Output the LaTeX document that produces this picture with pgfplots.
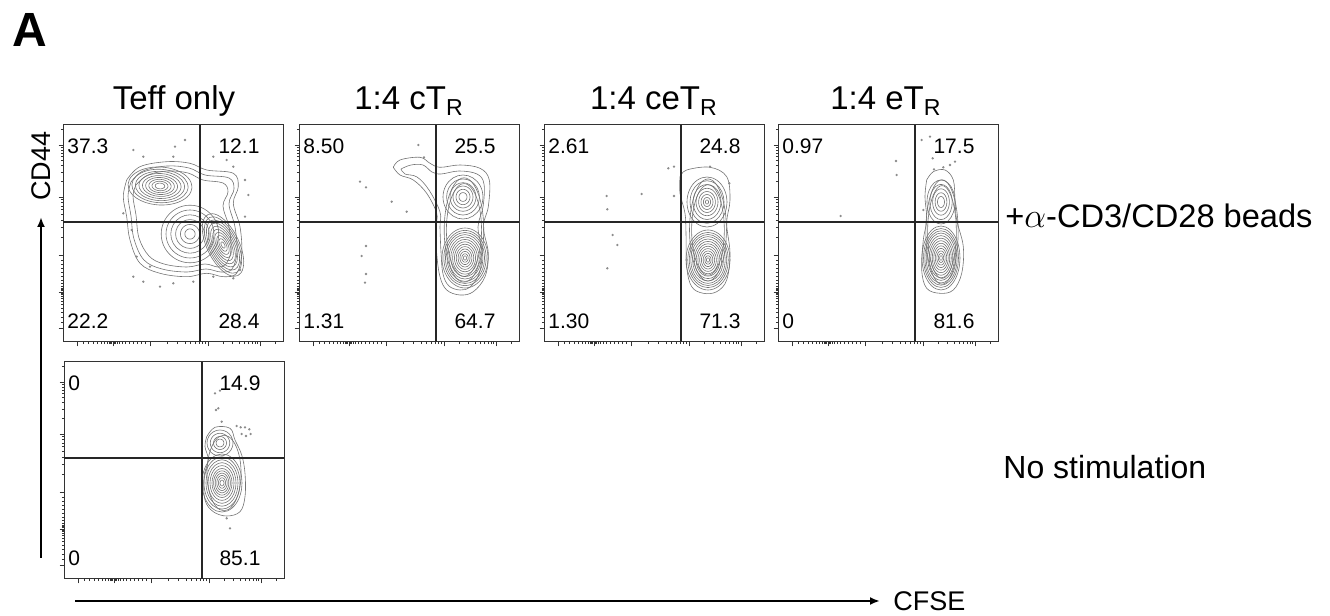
\documentclass[border=0pt]{standalone}
\usepackage{pgfplots}
\pgfplotsset{compat=1.18}
\usepackage{pgfplotstable}
\usepackage{fontspec}
\setmainfont{Liberation Sans}
\usetikzlibrary{arrows.meta}

% unit circle (typed) used for contour rings
\pgfplotstableread{
c s
1 0
0.9659 0.2588
0.8660 0.5
0.7071 0.7071
0.5 0.8660
0.2588 0.9659
0 1
-0.2588 0.9659
-0.5 0.8660
-0.7071 0.7071
-0.8660 0.5
-0.9659 0.2588
-1 0
-0.9659 -0.2588
-0.8660 -0.5
-0.7071 -0.7071
-0.5 -0.8660
-0.2588 -0.9659
0 -1
0.2588 -0.9659
0.5 -0.8660
0.7071 -0.7071
0.8660 -0.5
0.9659 -0.2588
1 0
}\unitcircle

\tikzset{qlab/.style={font=\fontsize{10.5}{12}\selectfont, inner sep=0pt}}
\pgfplotsset{
 flowpanel/.style={
   scale only axis, width=110pt, height=108.5pt,
   xmin=0,xmax=220,ymin=0,ymax=217,
   anchor=south west,
   axis line style={black!80, line width=0.5pt},
   tick pos=left, tick align=outside,
   xtick={14,50,87,145,197}, ytick={14,50,87,145,197},
   minor xtick={20,25,30,34,38,41,44,46,47.5,48.5,51.5,52.5,54,56,59,62,66,70,74,78,82,104.5,114.7,121.9,127.5,132.1,136,139.4,142.3,160.7,169.8,176.3,181.4,185.4,188.9,192,194.6,212.7},
   minor ytick={20,25,30,34,38,41,44,46,47.5,48.5,51.5,52.5,54,56,59,62,66,70,74,78,82,104.5,114.7,121.9,127.5,132.1,136,139.4,142.3,160.7,169.8,176.3,181.4,185.4,188.9,192,194.6,212.7},
   xticklabels={}, yticklabels={},
   major tick length=2.2pt, minor tick length=1.1pt,
   every tick/.style={black!80, line width=0.4pt},
 },
 cont/.style={black!55, line width=0.3pt, smooth, tension=0.6, no marks},
 gate/.style={black!85, line width=0.8pt, no marks},
 dots/.style={only marks, mark=*, mark size=0.35pt, black!45},
}

% nested contour rings: cx cy rx ry rotation {scale list}
\newcommand{\pop}[6]{%
 \foreach \f in {#6}{%
  \edef\temp{\noexpand\addplot[cont] table[x expr={#1+\f*(#3*\noexpand\thisrow{c}*cos(#5)-#4*\noexpand\thisrow{s}*sin(#5))}, y expr={#2+\f*(#3*\noexpand\thisrow{c}*sin(#5)+#4*\noexpand\thisrow{s}*cos(#5))}] {\noexpand\unitcircle};}%
  \temp
 }}

\newcommand{\qlabels}[4]{%
 \node[qlab, anchor=west] at (axis cs:4,196) {#1};
 \node[qlab] at (axis cs:176,196) {#2};
 \node[qlab, anchor=west] at (axis cs:4,21) {#3};
 \node[qlab] at (axis cs:176,21) {#4};
}

\begin{document}
\begin{tikzpicture}
\useasboundingbox (0,0) rectangle (665pt,308pt);

% ---------- Panel 1: Teff only ----------
\begin{axis}[flowpanel, at={(31.5pt,137pt)}]
\addplot[cont] coordinates {(63.7,162) (77,175.3) (103.7,180.3) (127,178.7) (143.7,172) (170.3,168.7) (175.3,155.3) (170.3,138.7) (177,115.3) (178.7,88.7) (173.7,68.7) (160.3,65.3) (143.7,68.7) (123.7,65.3) (97,68.7) (77,78.7) (67,102) (63.7,125.3) (60.3,145.3) (63.7,162)};
\addplot[cont] coordinates {(68,160) (80,171) (104,176) (126,174) (142,167) (166,164) (171,153) (166,138) (172,115) (174,90) (169,73) (158,70) (143,73) (124,70) (99,73) (81,82) (71,103) (68,126) (65,146) (68,160)};
\addplot[cont] coordinates {(73,157) (85,167) (105,171) (125,169) (140,162) (160,159) (165,150) (160,136) (166,115) (168,92) (163,78) (155,75) (142,78) (124,75) (101,78) (86,86) (76,104) (73,127) (70,146) (73,157)};
\pop{97}{156}{32}{19}{-3}{1,0.88,0.77,0.66,0.55,0.45,0.35,0.25,0.15}
\pop{127}{108}{32}{32}{0}{0.9,0.75,0.6,0.45,0.3,0.16}
\pop{160}{97}{16}{34}{26}{1,0.9,0.8,0.7,0.6,0.5,0.4,0.3,0.2,0.1}
\addplot[dots] coordinates {(70.3,192) (80.3,185.3) (110.3,185.3) (122,202) (112,195.3) (150.3,185.3) (163.7,182) (182,162) (185.3,147) (170.3,175.3) (73.7,85.3) (70.3,65.3) (80.3,60.3) (87,75.3) (110.3,58.7) (130.3,60.3) (150.3,65.3) (170.3,63.7) (68.7,112) (60.3,128.7) (97,55.3) (182,125.3) (177,72)};
\addplot[gate] coordinates {(137,0) (137,217)};
\addplot[gate] coordinates {(0,120) (220,120)};
\qlabels{37.3}{12.1}{22.2}{28.4}
\end{axis}

% ---------- Panel 2: 1:4 cTR ----------
\begin{axis}[flowpanel, at={(149.5pt,137pt)}]
\addplot[cont] coordinates {(94.3,174.7) (101,182) (121,184.7) (131,178.7) (141,174.7) (161,177) (181,173.7) (190.3,162) (189.3,135.3) (184.3,115.3) (189.3,88.7) (186,65.3) (174.3,50.3) (161,47) (147.7,52) (141,65.3) (137.7,88.7) (137,115.3) (137.7,128.7) (127.7,148.7) (114.3,162) (101,167) (94.3,174.7)};
\addplot[cont] coordinates {(102,173) (112,177) (124,177) (133,170) (142,168) (160,171) (178,168) (185,158) (184,135) (179,115) (183,90) (180,68) (171,55) (161,52) (150,56) (144,68) (142,90) (141,115) (141,130) (130,152) (118,165) (106,168) (102,173)};
\pop{164}{145}{20}{22}{0}{1,0.82,0.65,0.5,0.35,0.2}
\pop{165}{112}{22}{58}{0}{0.9,0.8}
\pop{166}{84}{23}{30}{0}{1,0.92,0.85,0.78,0.7,0.62,0.54,0.46,0.38,0.3,0.22,0.14,0.07}
\addplot[dots] coordinates {(119.3,197) (61,160.3) (67,154.7) (92.7,140.3) (107.7,130.3) (67,96) (62.7,86) (67,68) (66,59.3) (125,184.7)};
\addplot[gate] coordinates {(137,0) (137,217)};
\addplot[gate] coordinates {(0,120) (220,120)};
\qlabels{8.50}{25.5}{1.31}{64.7}
\end{axis}

% ---------- Panel 3: 1:4 ceTR ----------
\begin{axis}[flowpanel, at={(272pt,137pt)}]
\addplot[cont] coordinates {(136,165.3) (142.7,172) (166,174.7) (182.7,165.3) (186,142) (182.7,118.7) (186,88.7) (182.7,62) (172.7,50.3) (159.3,48.7) (147.7,55.3) (142.7,75.3) (142,108.7) (141,128.7) (136,148.7) (136,165.3)};
\pop{163}{140}{20}{25}{0}{1,0.85,0.7,0.55,0.42,0.3,0.18,0.08}
\pop{164}{112}{21}{58}{0}{0.88,0.78}
\pop{164}{82}{22}{30}{0}{1,0.92,0.85,0.78,0.7,0.62,0.54,0.46,0.38,0.3,0.22,0.14,0.07}
\addplot[dots] coordinates {(124.3,173.7) (130,175.3) (62.7,146) (63.3,132.7) (97.7,148) (130,146) (68.7,107) (73.3,97) (63.3,73.7) (185.3,158.7) (166,175.3)};
\addplot[gate] coordinates {(137,0) (137,217)};
\addplot[gate] coordinates {(0,120) (220,120)};
\qlabels{2.61}{24.8}{1.30}{71.3}
\end{axis}

% ---------- Panel 4: 1:4 eTR ----------
\begin{axis}[flowpanel, at={(389pt,137pt)}]
\addplot[cont] coordinates {(148.7,162) (155.3,170.3) (167,172) (175.3,162) (177,142) (178.7,122) (185.3,95.3) (183.7,68.7) (175.3,52) (162,48.7) (148.7,53.7) (143.7,72) (145.3,102) (148.7,122) (147,145.3) (148.7,162)};
\pop{163}{140}{14}{22}{0}{1,0.8,0.6,0.42,0.25}
\pop{164}{110}{18}{58}{0}{0.9,0.8}
\pop{163}{84}{19}{32}{0}{1,0.92,0.85,0.78,0.7,0.62,0.54,0.46,0.38,0.3,0.22,0.14,0.07}
\addplot[dots] coordinates {(118,181) (118.7,167) (62.7,126) (143.7,202) (152,205.3) (154.7,183.7) (156,172.7) (172,177) (165.3,174.7) (145.3,132) (177,180.3)};
\addplot[gate] coordinates {(137,0) (137,217)};
\addplot[gate] coordinates {(0,120) (220,120)};
\qlabels{0.97}{17.5}{0}{81.6}
\end{axis}

% ---------- Panel 5: No stimulation ----------
\begin{axis}[flowpanel, at={(32pt,18.5pt)}]
\addplot[cont] coordinates {(142.7,142.3) (151,151.7) (166,150.7) (171,139) (177.7,124) (181,105.7) (181,82.3) (176,67.3) (162.7,63) (149.3,67.3) (141,79) (140,102.3) (144.3,119) (141,132.3) (142.7,142.3)};
\pop{156}{136}{13}{13}{0}{1,0.75,0.5,0.3}
\pop{160}{106}{19}{42}{0}{0.9}
\pop{158}{96}{20}{29}{0}{1,0.9,0.8,0.7,0.6,0.5,0.42,0.34,0.26,0.18,0.1}
\addplot[dots] coordinates {(151,185.7) (156,188.3) (152,169) (154.3,170.7) (157.7,157.3) (172.7,153) (176.7,151.7) (181,151.7) (185.3,149.7) (186.7,145) (182,143) (177.7,145) (166,50.7) (162.7,60.7)};
\addplot[gate] coordinates {(138,0) (138,217)};
\addplot[gate] coordinates {(0,121) (220,121)};
\qlabels{0}{14.9}{0}{85.1}
\end{axis}

% ---------- titles and annotations ----------
\node[anchor=base west, font=\fontsize{24}{28}\selectfont\bfseries, inner sep=0pt] at (6pt,284.5pt) {A};
\node[anchor=base, font=\fontsize{16.5}{19}\selectfont, inner sep=0pt] at (87pt,253pt) {Teff only};
\node[anchor=base, font=\fontsize{16.5}{19}\selectfont, inner sep=0pt] at (204.5pt,253pt) {1:4 cT\textsubscript{R}};
\node[anchor=base, font=\fontsize{16.5}{19}\selectfont, inner sep=0pt] at (327pt,253pt) {1:4 ceT\textsubscript{R}};
\node[anchor=base, font=\fontsize{16.5}{19}\selectfont, inner sep=0pt] at (443pt,253pt) {1:4 eT\textsubscript{R}};
\node[anchor=base west, font=\fontsize{16.3}{19}\selectfont, inner sep=0pt] at (502.5pt,194pt) {+$\alpha$-CD3/CD28 beads};
\node[anchor=base west, font=\fontsize{16}{19}\selectfont, inner sep=0pt] at (501.5pt,68.5pt) {No stimulation};
\node[rotate=90, font=\fontsize{13.5}{16}\selectfont, inner sep=0pt] at (20.5pt,225pt) {CD44};
\node[anchor=base west, font=\fontsize{13.5}{16}\selectfont, inner sep=0pt] at (446.5pt,2.5pt) {CFSE};
\draw[-{Latex[length=5pt,width=4pt]}, line width=1pt] (20.5pt,29pt) -- (20.5pt,199.5pt);
\draw[-{Latex[length=5pt,width=4pt]}, line width=1pt] (37.5pt,7.5pt) -- (440pt,7.5pt);
\end{tikzpicture}
\end{document}
